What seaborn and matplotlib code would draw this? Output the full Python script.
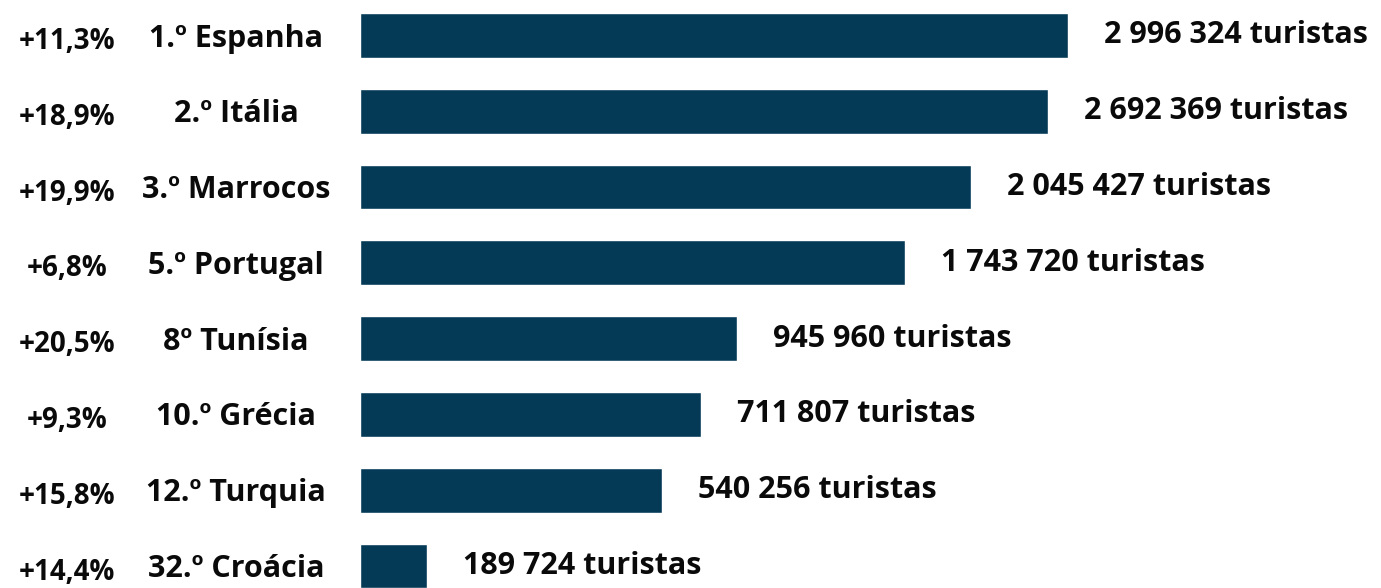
"""Portuguese tourists abroad: ranking of destinations, horizontal bars."""

import matplotlib.pyplot as plt
import pandas as pd
import seaborn as sns

ranks = ["1.º Espanha", "2.º Itália", "3.º Marrocos", "5.º Portugal",
         "8º Tunísia", "10.º Grécia", "12.º Turquia", "32.º Croácia"]
tourists = [2996324, 2692369, 2045427, 1743720, 945960, 711807, 540256, 189724]
growth = ["+11,3%", "+18,9%", "+19,9%", "+6,8%", "+20,5%", "+9,3%", "+15,8%", "+14,4%"]
# bar lengths as drawn in the original (not to scale with the labels)
drawn = [2996000, 2911000, 2586000, 2306000, 1595000, 1443000, 1278000, 284000]

BAR = "#053a57"

df = pd.DataFrame({"rank": ranks, "drawn": drawn, "tourists": tourists, "growth": growth})

sns.set_style("white")
plt.rcParams["font.family"] = ["Open Sans", "DejaVu Sans"]

fig = plt.figure(figsize=(13.81, 5.88), dpi=100)
ax = fig.add_axes([0, 0, 1, 1])

sns.barplot(data=df, x="drawn", y="rank", orient="h", color=BAR,
            saturation=1, width=0.59, ax=ax)

px = 708 / 2996000  # pixels per tourist
ax.set_xlim(-360 / px, (1381 - 360) / px)
ax.set_ylim(7.29, -0.468)
ax.axis("off")

tr = ax.get_yaxis_transform()
for i, row in df.iterrows():
    ax.text(67 / 1381, i + 0.08, row["growth"], transform=tr, ha="center", va="center",
            fontsize=20, fontweight="bold", color="#0a0a0a")
    ax.text(236 / 1381, i + 0.04, row["rank"], transform=tr, ha="center", va="center",
            fontsize=22, fontweight="bold", color="#0a0a0a")
    label = f"{row['tourists']:,}".replace(",", " ") + " turistas"
    ax.annotate(label, (row["drawn"], i), xytext=(26, 0), textcoords="offset points",
                ha="left", va="center", fontsize=22, fontweight="bold", color="#0a0a0a")

fig.savefig("out.png", dpi=100)
plt.close(fig)
